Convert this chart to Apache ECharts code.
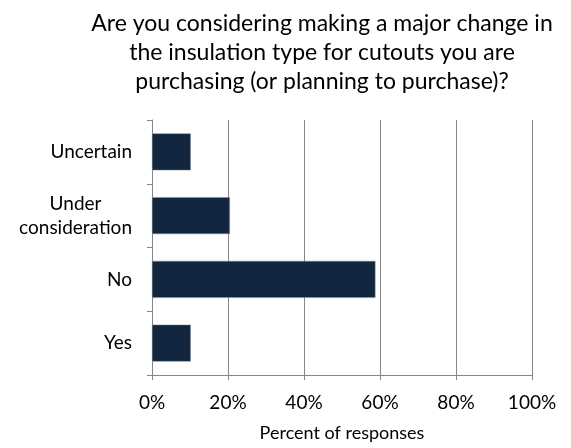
<!DOCTYPE html>
<html><head><meta charset="utf-8">
<script src="https://cdn.jsdelivr.net/npm/echarts@6/dist/echarts.min.js"></script>
<style>html,body{margin:0;padding:0;background:#fff}#c{width:571px;height:448px}</style>
</head><body><div id="c"></div>
<script>
const titleLines = ['Are you considering making a major change in','the insulation type for cutouts you are','purchasing (or planning to purchase)?'];
const categories = ['Yes','No','Under consideration','Uncertain'];
const values = [10.2, 58.8, 20.5, 10.2];
const xTicks = [0,20,40,60,80,100];
const xAxisName = 'Percent of responses';
const FONT = 'Lato';
const chart = echarts.init(document.getElementById('c'), null, {renderer:'canvas'});
chart.setOption({
  animation:false,
  backgroundColor:'#fff',
  graphic:[{type:'text', x:322, y:9, style:{text:titleLines.join('\n'), textAlign:'center', font:'23px '+FONT, lineHeight:29, fill:'#000'}}],
  grid:{left:152,right:39,top:120,bottom:73,containLabel:false},
  xAxis:{type:'value',min:xTicks[0],max:xTicks[xTicks.length-1],interval:20,
    name:xAxisName,nameLocation:'middle',nameGap:49,nameTextStyle:{fontFamily:FONT,fontSize:18,color:'#000'},
    axisLine:{show:true,lineStyle:{color:'#868686'}},
    axisTick:{show:true,length:5,lineStyle:{color:'#868686'}},
    axisLabel:{formatter:v=>v+'%',fontFamily:FONT,fontSize:19,color:'#000',margin:18},
    splitLine:{show:true,lineStyle:{color:'#868686',width:1}}},
  yAxis:{type:'category',data:categories,
    axisLine:{show:true,lineStyle:{color:'#868686'}},
    axisTick:{show:true,length:5,lineStyle:{color:'#868686'}},
    axisLabel:{fontFamily:FONT,fontSize:19,color:'#000',margin:20,
      formatter:v=>{const p=v.split(' ');return p.map(s=>'{c|'+s+'}').join('\n');},
      rich:{c:{align:'center',fontFamily:FONT,fontSize:19,color:'#000',lineHeight:24}}}},
  series:[{type:'bar',data:values,barCategoryGap:'42%',itemStyle:{color:'#12263f',borderColor:'#8a919b',borderWidth:0.5}}]
});
</script></body></html>
